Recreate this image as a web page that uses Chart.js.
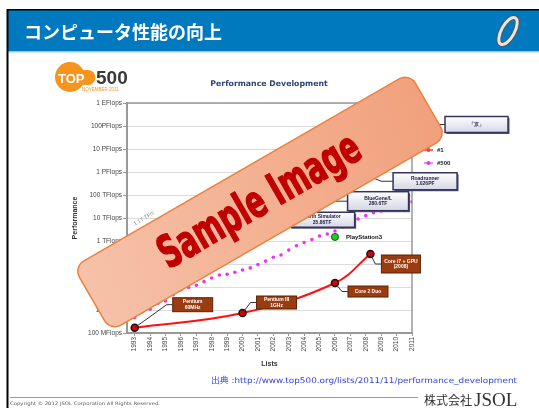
<!DOCTYPE html>
<html>
<head>
<meta charset="utf-8">
<script src="https://cdn.jsdelivr.net/npm/chart.js@4.4.0/dist/chart.umd.min.js"></script>
<style>
html, body { margin: 0; padding: 0; background: #fff; overflow: hidden; }
canvas { display: block; }
</style>
</head>
<body>
<canvas id="mycanvas" width="539" height="408"></canvas>
<script>
// TOP500 lists (June / November), values in GFlops
var lists = ['1993/06','1993/11','1994/06','1994/11','1995/06','1995/11','1996/06','1996/11',
	'1997/06','1997/11','1998/06','1998/11','1999/06','1999/11','2000/06','2000/11',
	'2001/06','2001/11','2002/06','2002/11','2003/06','2003/11','2004/06','2004/11',
	'2005/06','2005/11','2006/06','2006/11','2007/06','2007/11','2008/06','2008/11',
	'2009/06','2009/11','2010/06','2010/11','2011/06','2011/11'];

var sumGF = [1170, 1493, 2317, 2732, 3924, 4784, 5748, 7549,
	11160, 15140, 18700, 24250, 33500, 50640, 64500, 88420,
	108500, 134300, 222200, 293700, 375000, 528700, 813300, 1127000,
	1690000, 2300000, 2790000, 3540000, 4920000, 6970000, 11700000, 16900000,
	22600000, 27900000, 32400000, 43700000, 58900000, 74200000];

var n1GF = [59.7, 124.5, 143.4, 170.4, 170.4, 170.4, 220.4, 368.2,
	1068, 1338, 1338, 1338, 2121, 2379, 2379, 4938,
	7226, 7226, 35860, 35860, 35860, 35860, 35860, 70720,
	136800, 280600, 280600, 280600, 280600, 478200, 1026000, 1105000,
	1105000, 1759000, 1759000, 2566000, 8162000, 10510000];

var n500GF = [0.42, 0.47, 0.84, 1.09, 1.96, 2.45, 4.62, 7.67,
	9.5, 12.0, 17.1, 24.7, 33.1, 36.0, 43.8, 55.1,
	67.8, 94.3, 134, 196, 245, 403, 624, 851,
	1166, 1646, 2026, 2737, 4005, 5929, 9000, 12640,
	17090, 20050, 24670, 31120, 39090, 50940];

// PC line and PlayStation3 point
var pcYears = [1993, 2000, 2006, 2008.3];
var pcGF = [0.17, 0.74, 14.9, 272];
var pcNotes = [['Pentium', '60MHz'], ['Pentium III', '1GHz'], ['Core 2 Duo'], ['Core i7 + GPU', '(2008)']];
var ps3Year = [2006];
var ps3GF = [1500];

// callouts on the #1 line (index into lists)
var topNoteIdx = [37, 30, 25, 18];
var topNotes = [['\u300c\u4eac\u300d'], ['Roadrunner', '1.026PF'], ['BlueGene/L', '280.6TF'], ['Earth Simulator', '35.86TF']];

var yearTicks = [1993, 1994, 1995, 1996, 1997, 1998, 1999, 2000, 2001, 2002, 2003, 2004, 2005, 2006, 2007, 2008, 2009, 2010, 2011];
var perfTicks = [0.1, 1, 10, 100, 1e3, 1e4, 1e5, 1e6, 1e7, 1e8, 1e9];
var perfLabels = ['100 MFlops', '1 GFlops', '10 GFlops', '100 GFlops', '1 TFlops', '10 TFlops',
	'100 TFlops', '1 PFlops', '10 PFlops', '100PFlops', '1 EFlops'];

function listX(s) {
	var p = s.split('/');
	return +p[0] - (p[1] === '06' ? 0.5 : 0);
}
function series(vals) {
	var out = [];
	for (var i in lists) out.push({ x: listX(lists[i]), y: vals[i] });
	return out;
}
function pairs(xs, ys) {
	var out = [];
	for (var i in xs) out.push({ x: xs[i], y: ys[i] });
	return out;
}

Chart.defaults.font.family = '"Liberation Sans", Arial, sans-serif';

function drawBox(ctx, x, y, w, h, lines, style) {
	ctx.save();
	if (style === 'navy') {
		ctx.fillStyle = '#55557a';
		ctx.fillRect(x + 1.5, y + 1.5, w, h);
		var g = ctx.createLinearGradient(0, y, 0, y + h);
		g.addColorStop(0, '#ffffff');
		g.addColorStop(1, '#d6d6e6');
		ctx.fillStyle = g;
		ctx.fillRect(x, y, w, h);
		ctx.strokeStyle = '#34345e';
		ctx.lineWidth = 1.5;
		ctx.strokeRect(x, y, w, h);
		ctx.fillStyle = '#222244';
	} else {
		ctx.fillStyle = '#9b3b10';
		ctx.fillRect(x, y, w, h);
		ctx.strokeStyle = '#5a2208';
		ctx.lineWidth = 1;
		ctx.strokeRect(x, y, w, h);
		ctx.fillStyle = '#fff';
	}
	ctx.font = 'bold 5px "Liberation Sans", sans-serif';
	ctx.textAlign = 'center';
	ctx.textBaseline = 'middle';
	var n = lines.length;
	for (var i = 0; i < n; i++) {
		ctx.fillText(lines[i], x + w / 2, y + h / 2 + (i - (n - 1) / 2) * 5.5);
	}
	ctx.restore();
}

function leader(ctx, pts) {
	ctx.save();
	ctx.strokeStyle = '#333';
	ctx.lineWidth = 1;
	ctx.beginPath();
	ctx.moveTo(pts[0][0], pts[0][1]);
	for (var i = 1; i < pts.length; i++) ctx.lineTo(pts[i][0], pts[i][1]);
	ctx.stroke();
	ctx.restore();
}

// text squeezed or stretched to a given width
function fitText(ctx, txt, x, y, width) {
	var tw = ctx.measureText(txt).width;
	ctx.save();
	ctx.translate(x, y);
	ctx.scale(width / tw, 1);
	ctx.fillText(txt, 0, 0);
	ctx.restore();
}

// slide frame, header, logos, footer
var slidePlugin = {
	id: 'slide',
	beforeDraw: function(chart) {
		var ctx = chart.ctx;
		ctx.save();
		ctx.fillStyle = '#fff';
		ctx.fillRect(0, 0, 539, 408);
		// blue header
		ctx.fillStyle = '#0079bf';
		ctx.fillRect(8, 10, 531, 41);
		ctx.fillStyle = '#9cc9e8';
		ctx.fillRect(8, 51, 531, 1.5);
		ctx.fillStyle = '#000';
		ctx.fillRect(7, 9, 532, 1.5);
		ctx.fillRect(6.5, 9, 2, 399);
		ctx.fillStyle = '#fff';
		ctx.font = 'bold 18px "Noto Sans CJK JP", sans-serif';
		ctx.textBaseline = 'middle';
		ctx.fillText('\u30b3\u30f3\u30d4\u30e5\u30fc\u30bf\u6027\u80fd\u306e\u5411\u4e0a', 24, 32);
		// ring logo
		ctx.translate(508, 31);
		ctx.rotate(0.5);
		ctx.beginPath();
		ctx.ellipse(0, 0, 6.5, 15, 0, 0, Math.PI * 2);
		ctx.strokeStyle = '#555';
		ctx.lineWidth = 5;
		ctx.stroke();
		ctx.strokeStyle = '#e6e6e6';
		ctx.lineWidth = 3;
		ctx.stroke();
		ctx.restore();

		// TOP500 logo
		ctx.save();
		ctx.fillStyle = '#f7941d';
		ctx.beginPath();
		ctx.arc(70, 77, 15, 0, Math.PI * 2);
		ctx.fill();
		ctx.beginPath();
		ctx.arc(88, 77.5, 7.5, -Math.PI / 2, Math.PI / 2);
		ctx.lineTo(70, 85);
		ctx.lineTo(70, 70);
		ctx.fill();
		ctx.fillStyle = '#fff';
		ctx.font = 'bold 13px "Liberation Sans", sans-serif';
		ctx.textBaseline = 'alphabetic';
		ctx.fillText('TOP', 58, 83);
		ctx.fillStyle = '#3a3a3a';
		ctx.font = 'bold 19px "Liberation Sans", sans-serif';
		ctx.fillText('500', 96, 84);
		ctx.fillStyle = '#f7941d';
		ctx.font = '4.5px "Liberation Sans", sans-serif';
		ctx.fillText('NOVEMBER 2011', 82, 91);
		// chart title
		ctx.fillStyle = '#2c4474';
		ctx.font = 'bold 7.8px "DejaVu Sans", sans-serif';
		ctx.textAlign = 'center';
		ctx.textBaseline = 'middle';
		ctx.fillText('Performance Development', 269, 84);
		// source
		ctx.fillStyle = '#3344dd';
		ctx.font = '7.8px "DejaVu Sans", "Noto Sans CJK JP", sans-serif';
		ctx.textAlign = 'left';
		fitText(ctx, '\u51fa\u5178 :http://www.top500.org/lists/2011/11/performance_development', 211, 381, 306);
		// footer
		ctx.fillStyle = '#999';
		ctx.fillRect(10, 397, 408, 1);
		ctx.fillStyle = '#555';
		ctx.font = '4.6px "DejaVu Sans", sans-serif';
		fitText(ctx, 'Copyright \u00a9 2012 JSOL Corporation All Rights Reserved.', 10, 404, 150);
		ctx.fillStyle = '#333';
		ctx.textBaseline = 'alphabetic';
		ctx.font = '12px "Noto Sans CJK JP", sans-serif';
		ctx.fillText('\u682a\u5f0f\u4f1a\u793e', 424, 405);
		ctx.font = '19px "Liberation Serif", serif';
		ctx.fillText('JSOL', 474, 406);
		ctx.restore();
	},
	beforeDatasetsDraw: function(chart) {
		var a = chart.chartArea, ctx = chart.ctx;
		ctx.save();
		ctx.strokeStyle = '#999';
		ctx.lineWidth = 1.5;
		ctx.beginPath();
		ctx.moveTo(a.left, a.top);
		ctx.lineTo(a.right, a.top);
		ctx.lineTo(a.right, a.bottom);
		ctx.stroke();
		ctx.restore();
	},
	afterDatasetsDraw: function(chart) {
		var ctx = chart.ctx, xs = chart.scales.x, ys = chart.scales.y;
		// PC callouts
		var pcBox = [[38, -30, 40, 14], [14, -17, 40, 13], [13, 3, 40, 11], [11, 1, 39, 18]];
		for (var i in pcYears) {
			var px = xs.getPixelForValue(pcYears[i]), py = ys.getPixelForValue(pcGF[i]);
			var b = pcBox[i];
			var bx = px + b[0], by = py + b[1];
			var my = by + b[3] / 2;
			leader(ctx, [[px, py], [bx - 6, my], [bx, my]]);
			drawBox(ctx, bx, by, b[2], b[3], pcNotes[i], 'brown');
		}
		// #1 callouts
		var topBox = [[33, -32, 63, 16], [35, 1, 64, 17], [28, 7, 61, 19], [24, 7, 65, 15]];
		for (var j in topNoteIdx) {
			var k = topNoteIdx[j];
			var qx = xs.getPixelForValue(listX(lists[k])), qy = ys.getPixelForValue(n1GF[k]);
			var c = topBox[j];
			var cx = qx + c[0], cy = qy + c[1];
			leader(ctx, [[qx, qy], [cx - 12, cy + c[3] / 2], [cx, cy + c[3] / 2]]);
			drawBox(ctx, cx, cy, c[2], c[3], topNotes[j], 'navy');
		}
		// PlayStation3 label
		var sx = xs.getPixelForValue(ps3Year[0]), sy = ys.getPixelForValue(ps3GF[0]);
		ctx.save();
		ctx.fillStyle = '#111';
		ctx.font = 'bold 6px "Liberation Sans", sans-serif';
		ctx.textBaseline = 'middle';
		ctx.fillText('PlayStation3', sx + 11, sy);
		// first sum value label
		var fx = xs.getPixelForValue(listX(lists[0])), fy = ys.getPixelForValue(sumGF[0]);
		ctx.translate(fx + 17, fy - 21);
		ctx.rotate(-0.55);
		ctx.fillStyle = '#888';
		ctx.font = '5.5px "Liberation Sans", sans-serif';
		ctx.textAlign = 'center';
		ctx.fillText('1.17 TF/s', 0, 0);
		ctx.restore();
		// legend (#1 and #500)
		ctx.save();
		var lx = chart.chartArea.right + 12;
		var ly = 150;
		for (var d = 1; d < 3; d++) {
			var ds = chart.data.datasets[d];
			var yy = ly + (d - 1) * 13;
			ctx.strokeStyle = ds.borderColor;
			ctx.lineWidth = 1.5;
			ctx.beginPath();
			ctx.moveTo(lx, yy);
			ctx.lineTo(lx + 9, yy);
			ctx.stroke();
			ctx.fillStyle = ds.pointBackgroundColor || ds.borderColor;
			ctx.beginPath();
			ctx.arc(lx + 4.5, yy, 2, 0, Math.PI * 2);
			ctx.fill();
			ctx.fillStyle = '#222';
			ctx.font = 'bold 6px "Liberation Sans", sans-serif';
			ctx.textBaseline = 'middle';
			ctx.fillText(ds.label, lx + 13, yy);
		}
		ctx.restore();
	},
	afterDraw: function(chart) {
		// "Sample Image" banner
		var ctx = chart.ctx;
		var w = 388, h = 74, r = 12;
		ctx.save();
		ctx.translate(260, 202);
		ctx.rotate(-30 * Math.PI / 180);
		var g = ctx.createLinearGradient(-w / 2, -h / 2, w / 2, h / 2);
		g.addColorStop(0, '#f6c2a9');
		g.addColorStop(1, '#f1a07c');
		ctx.beginPath();
		ctx.moveTo(-w / 2 + r, -h / 2);
		ctx.arcTo(w / 2, -h / 2, w / 2, h / 2, r);
		ctx.arcTo(w / 2, h / 2, -w / 2, h / 2, r);
		ctx.arcTo(-w / 2, h / 2, -w / 2, -h / 2, r);
		ctx.arcTo(-w / 2, -h / 2, w / 2, -h / 2, r);
		ctx.closePath();
		ctx.fillStyle = g;
		ctx.fill();
		ctx.strokeStyle = '#e8823e';
		ctx.lineWidth = 1.5;
		ctx.stroke();
		ctx.fillStyle = '#c00000';
		ctx.strokeStyle = '#c00000';
		ctx.lineWidth = 1.2;
		ctx.font = 'bold 40px "Liberation Sans Narrow", "DejaVu Sans Condensed", "Liberation Sans", sans-serif';
		ctx.textAlign = 'center';
		ctx.textBaseline = 'middle';
		var tw = ctx.measureText('Sample Image').width;
		ctx.scale(226 / tw, 1.12);
		ctx.fillText('Sample Image', 0, 1);
		ctx.strokeText('Sample Image', 0, 1);
		ctx.restore();
	}
};

var ctx = document.getElementById('mycanvas');

var perfChart = new Chart(ctx, {
	type: 'line',
	data: {
		datasets: [{
			label: 'Sum',
			data: series(sumGF),
			borderColor: '#3a5fb0',
			borderWidth: 1.5,
			pointRadius: 0
		}, {
			label: '#1',
			data: series(n1GF),
			borderColor: '#e8404a',
			borderWidth: 1.5,
			pointRadius: 0
		}, {
			label: '#500',
			data: series(n500GF),
			borderColor: '#f060f0',
			pointBackgroundColor: '#ee33ee',
			showLine: false,
			pointRadius: 1.8,
			pointBorderWidth: 0
		}, {
			label: 'PC',
			data: pairs(pcYears, pcGF),
			borderColor: '#ff1010',
			borderWidth: 2,
			tension: 0.4,
			pointRadius: 3.5,
			pointBackgroundColor: '#e00000',
			pointBorderColor: '#111',
			pointBorderWidth: 1.5
		}, {
			label: 'PlayStation3',
			data: pairs(ps3Year, ps3GF),
			showLine: false,
			pointRadius: 3.5,
			pointBackgroundColor: '#22cc22',
			pointBorderColor: '#115511',
			pointBorderWidth: 1
		}]
	},
	options: {
		responsive: false,
		animation: false,
		layout: { padding: { left: 67, right: 127, top: 103, bottom: 36 } },
		plugins: { legend: { display: false }, tooltip: { enabled: false } },
		scales: {
			x: {
				type: 'linear',
				min: 1992.5,
				max: 2011,
				afterBuildTicks: function(axis) {
					axis.ticks = yearTicks.map(function(v) { return { value: v }; });
				},
				afterFit: function(axis) { axis.height = 39; },
				ticks: {
					autoSkip: false,
					minRotation: 90,
					maxRotation: 90,
					padding: 1,
					color: '#444',
					font: { size: 6.5 },
					callback: function(v) { return String(v); }
				},
				grid: { drawOnChartArea: false, tickLength: 3, tickColor: '#999' },
				border: { color: '#999', width: 2 },
				title: { display: true, text: 'Lists', color: '#333', font: { size: 7, weight: 'bold' } }
			},
			y: {
				type: 'logarithmic',
				min: 0.1,
				max: 1e9,
				afterBuildTicks: function(axis) {
					axis.ticks = perfTicks.map(function(v) { return { value: v }; });
				},
				afterFit: function(axis) { axis.width = 60; },
				ticks: {
					padding: 1,
					color: '#444',
					font: { size: 6.5 },
					callback: function(v) {
						var i = perfTicks.indexOf(v);
						return i < 0 ? '' : perfLabels[i];
					}
				},
				grid: { color: '#dcdcdc', lineWidth: 1, tickLength: 4, tickColor: '#999' },
				border: { color: '#999', width: 2 },
				title: { display: true, text: 'Performance', color: '#333', font: { size: 7, weight: 'bold' } }
			}
		}
	},
	plugins: [slidePlugin]
});
</script>
</body>
</html>
